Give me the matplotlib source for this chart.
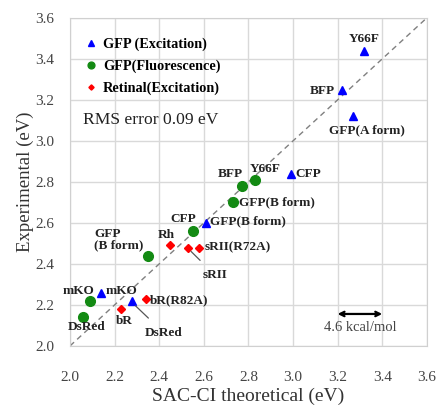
import numpy as np
import matplotlib.pyplot as plt

plt.rcParams['font.family'] = ['Liberation Serif', 'DejaVu Serif']

# GFP excitation (blue triangles)
exc_names = ["Y66F", "BFP", "GFP(A form)", "CFP", "GFP(B form)", "mKO", "DsRed"]
exc_x = [3.32, 3.22, 3.27, 2.99, 2.61, 2.14, 2.28]
exc_y = [3.44, 3.25, 3.12, 2.84, 2.60, 2.26, 2.22]

# GFP fluorescence (green circles)
flu_names = ["Y66F", "BFP", "GFP(B form)", "CFP", "GFP\n(B form)", "mKO", "DsRed"]
flu_x = [2.83, 2.77, 2.73, 2.55, 2.35, 2.09, 2.06]
flu_y = [2.81, 2.78, 2.70, 2.56, 2.44, 2.22, 2.14]

# Retinal excitation (red)
ret_names = ["Rh", "sRII", "sRII(R72A)", "bR", "bR(R82A)"]
ret_x = [2.45, 2.53, 2.58, 2.23, 2.34]
ret_y = [2.49, 2.48, 2.48, 2.18, 2.23]

ticks = [2.0, 2.2, 2.4, 2.6, 2.8, 3.0, 3.2, 3.4, 3.6]

fig = plt.figure(figsize=(4.4, 4.07), dpi=100)
ax = fig.add_axes([0.159, 0.150, 0.811, 0.806])

ax.plot([2.0, 3.6], [2.0, 3.6], ls=(0, (4, 3)), color='#808080', lw=1, zorder=1)
ax.plot(exc_x, exc_y, '^', color='#0000ff', ms=6, ls='none', label="GFP (Excitation)", zorder=3)
ax.plot(flu_x, flu_y, 'o', color='#138a13', ms=7, ls='none', label="GFP(Fluorescence)", zorder=3)
ax.plot(ret_x, ret_y, 'D', color='#ff0000', ms=3.8, ls='none', label="Retinal(Excitation)", zorder=3)

lab = dict(fontsize=9.5, fontweight='bold', color='#222222')
# blue labels
ax.text(3.32, 3.47, "Y66F", ha='center', va='bottom', **lab)
ax.text(3.19, 3.245, "BFP", ha='right', va='center', **lab)
ax.text(3.33, 3.05, "GFP(A form)", ha='center', va='center', **lab)
ax.text(3.01, 2.84, "CFP", ha='left', va='center', **lab)
ax.text(2.63, 2.606, "GFP(B form)", ha='left', va='center', **lab)
ax.text(2.16, 2.27, "mKO", ha='left', va='center', **lab)
ax.annotate("DsRed", xy=(2.285, 2.205), xytext=(2.42, 2.065), ha='center', va='center',
            arrowprops=dict(arrowstyle='-', color='#555555', lw=0.9, shrinkA=6, shrinkB=2), **lab)
# green labels
ax.text(2.875, 2.865, "Y66F", ha='center', va='center', **lab)
ax.text(2.72, 2.84, "BFP", ha='center', va='center', **lab)
ax.text(2.76, 2.70, "GFP(B form)", ha='left', va='center', **lab)
ax.text(2.51, 2.62, "CFP", ha='center', va='center', **lab)
ax.text(2.11, 2.52, "GFP\n(B form)", ha='left', va='center', linespacing=0.95, **lab)
ax.text(2.037, 2.27, "mKO", ha='center', va='center', **lab)
ax.text(2.075, 2.094, "DsRed", ha='center', va='center', **lab)
# red labels
ax.text(2.43, 2.54, "Rh", ha='center', va='center', **lab)
ax.annotate("sRII", xy=(2.53, 2.475), xytext=(2.65, 2.346), ha='center', va='center',
            arrowprops=dict(arrowstyle='-', color='#555555', lw=0.9, shrinkA=6, shrinkB=3), **lab)
ax.text(2.605, 2.48, "sRII(R72A)", ha='left', va='center', **lab)
ax.text(2.245, 2.12, "bR", ha='center', va='center', **lab)
ax.text(2.36, 2.224, "bR(R82A)", ha='left', va='center', **lab)

ax.text(2.06, 3.10, "RMS error 0.09 eV", fontsize=12.6, color='#222222', va='center', ha='left')

ax.annotate("", xy=(3.2, 2.156), xytext=(3.4, 2.156),
            arrowprops=dict(arrowstyle='<->', color='black', lw=1.6, shrinkA=0, shrinkB=0,
                            mutation_scale=8))
ax.text(3.3, 2.088, "4.6 kcal/mol", fontsize=10.5, color='#444444', ha='center', va='center')

ax.legend(loc='upper left', bbox_to_anchor=(0.0, 0.98), frameon=False, handletextpad=0.2,
          labelspacing=0.6, markerscale=0.7, handlelength=1.2,
          prop=dict(family='Liberation Serif', weight='bold', size=10.3))

ax.set_xlim(2.0, 3.6)
ax.set_ylim(2.0, 3.6)
ax.set_xticks(ticks)
ax.set_yticks(ticks)
ax.set_xticklabels([f"{t:.1f}" for t in ticks])
ax.set_yticklabels([f"{t:.1f}" for t in ticks])
ax.tick_params(axis='x', length=0, pad=18, labelsize=11, labelcolor='#444444')
ax.tick_params(axis='y', length=0, pad=11, labelsize=11, labelcolor='#444444')
ax.grid(True, color='#d9d9d9', lw=1)
ax.set_axisbelow(True)
for s in ax.spines.values():
    s.set_color('#d0d0d0')

ax.set_xlabel("SAC-CI theoretical (eV)", fontsize=14, color='#333333', labelpad=3)
ax.set_ylabel("Experimental (eV)", fontsize=13.5, color='#333333', labelpad=1)

fig.savefig("out.png", dpi=100)
